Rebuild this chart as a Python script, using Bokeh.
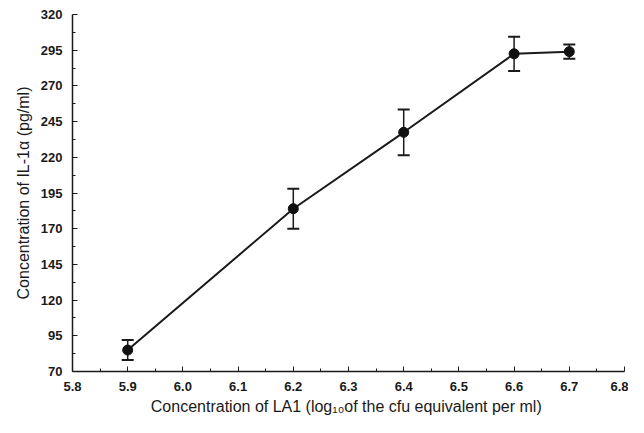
from bokeh.plotting import figure
from bokeh.models import FixedTicker, ColumnDataSource, Whisker, TeeHead, Range1d
from bokeh.embed import file_html
from bokeh.resources import INLINE

# data
x_vals = [5.9, 6.2, 6.4, 6.6, 6.7]
y_vals = [85, 184, 237.5, 292.5, 294]
y_err = [7, 14, 16, 12, 5]

x_ticks = [5.8, 5.9, 6.0, 6.1, 6.2, 6.3, 6.4, 6.5, 6.6, 6.7, 6.8]
y_ticks = [70, 95, 120, 145, 170, 195, 220, 245, 270, 295, 320]

x_minor = [round((a + b) / 2, 3) for a, b in zip(x_ticks[:-1], x_ticks[1:])]
y_minor = [(a + b) / 2 for a, b in zip(y_ticks[:-1], y_ticks[1:])]

src = ColumnDataSource(dict(
    x=x_vals, y=y_vals,
    lo=[v - e for v, e in zip(y_vals, y_err)],
    hi=[v + e for v, e in zip(y_vals, y_err)],
))

p = figure(width=628, height=417, output_backend="svg", toolbar_location=None,
           x_range=Range1d(5.8, 6.8), y_range=Range1d(70, 320),
           min_border_left=72, min_border_right=4, min_border_top=14, min_border_bottom=46)
p.outline_line_color = None
p.grid.visible = False
p.background_fill_color = "white"

p.line("x", "y", source=src, line_color="#1a1a1a", line_width=2)
w = Whisker(base="x", lower="lo", upper="hi", source=src,
            line_color="#1a1a1a", line_width=1.5,
            upper_head=TeeHead(size=12, line_color="#1a1a1a", line_width=2),
            lower_head=TeeHead(size=12, line_color="#1a1a1a", line_width=2))
p.add_layout(w)
p.scatter("x", "y", source=src, size=10, color="#111111")

p.xaxis.ticker = FixedTicker(ticks=x_ticks, minor_ticks=x_minor)
p.yaxis.ticker = FixedTicker(ticks=y_ticks, minor_ticks=y_minor)
p.xaxis.major_label_overrides = {t: f"{t:.1f}" for t in x_ticks}

for ax in (p.xaxis, p.yaxis):
    ax.axis_line_color = "#1a1a1a"
    ax.axis_line_width = 1.5
    ax.major_tick_in = 5
    ax.major_tick_out = 0
    ax.minor_tick_in = 3
    ax.minor_tick_out = 0
    ax.major_tick_line_color = "#1a1a1a"
    ax.minor_tick_line_color = "#1a1a1a"
    ax.major_label_text_font = "Liberation Sans"
    ax.major_label_text_font_style = "bold"
    ax.major_label_text_font_size = "13px"
    ax.major_label_text_color = "#1a1a1a"
    ax.axis_label_text_font = "Liberation Sans"
    ax.axis_label_text_font_style = "normal"
    ax.axis_label_text_font_size = "16px"
    ax.axis_label_text_color = "#1a1a1a"

p.xaxis.axis_label = "Concentration of LA1  (log\u2081\u2080of the cfu equivalent per ml)"
p.yaxis.axis_label = "Concentration of IL-1\u03b1 (pg/ml)"
p.xaxis.major_label_standoff = 10
p.yaxis.major_label_standoff = 10
p.xaxis.axis_label_standoff = 4
p.yaxis.axis_label_standoff = 6

open("out.html", "w").write(file_html(p, INLINE))
